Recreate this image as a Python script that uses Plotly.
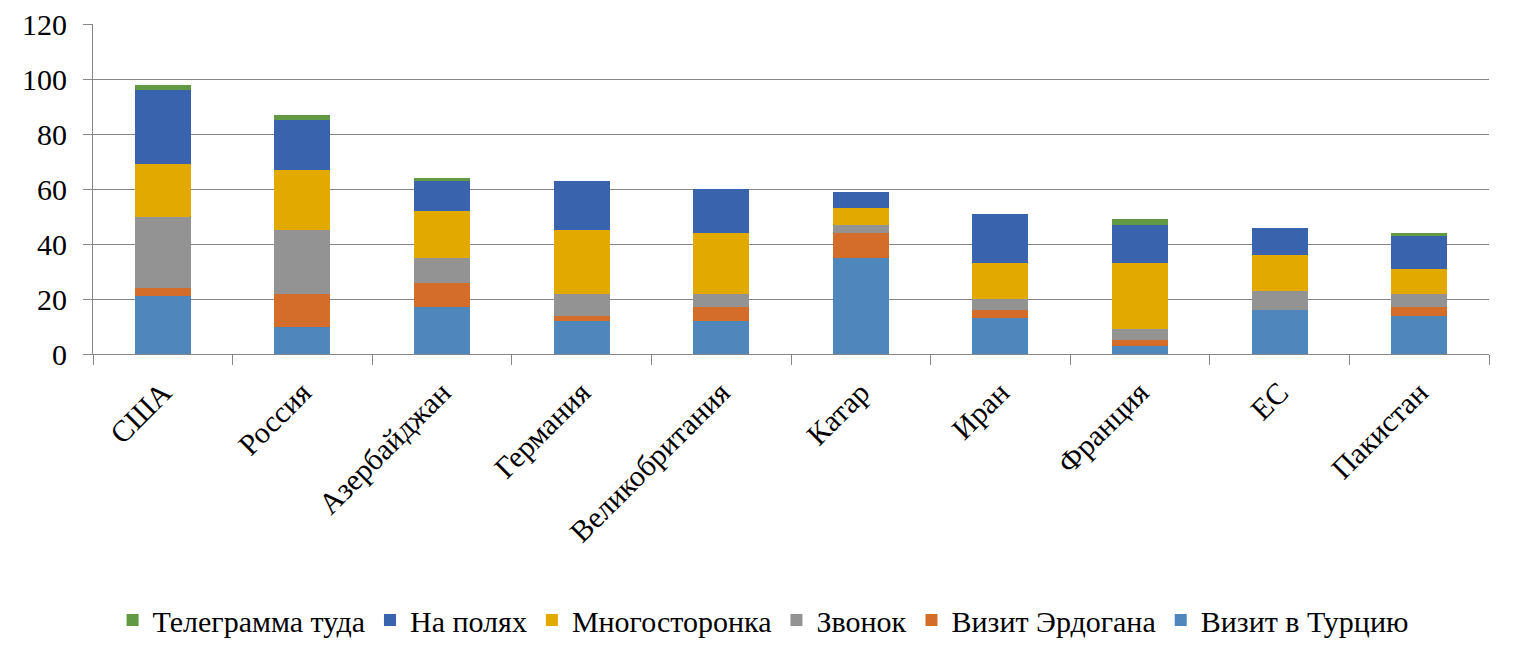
import plotly.graph_objects as go

categories = ["США", "Россия", "Азербайджан", "Германия", "Великобритания",
              "Катар", "Иран", "Франция", "ЕС", "Пакистан"]

visit_turkey = [21, 10, 17, 12, 12, 35, 13, 3, 16, 14]
visit_erdogan = [3, 12, 9, 2, 5, 9, 3, 2, 0, 3]
call = [26, 23, 9, 8, 5, 3, 4, 4, 7, 5]
multilateral = [19, 22, 17, 23, 22, 6, 13, 24, 13, 9]
sidelines = [27, 18, 11, 18, 16, 6, 18, 14, 10, 12]
telegram = [2, 2, 1, 0, 0, 0, 0, 2, 0, 1]

series_names = ["Визит в Турцию", "Визит Эрдогана", "Звонок",
                "Многосторонка", "На полях", "Телеграмма туда"]
series_values = [visit_turkey, visit_erdogan, call, multilateral, sidelines, telegram]
series_colors = ["#4F87BD", "#D46D2A", "#939393", "#E2AA00", "#3A63AD", "#629A44"]

FONT = "Times New Roman"

fig = go.Figure()
for name, vals, color in zip(series_names, series_values, series_colors):
    fig.add_trace(go.Bar(x=categories, y=vals, name=name,
                         marker=dict(color=color, line=dict(width=0))))

fig.update_layout(
    template="none",
    barmode="stack",
    bargap=0.6,
    width=1509, height=638,
    margin=dict(l=85, r=28, t=16, b=292, autoexpand=False),
    plot_bgcolor="white", paper_bgcolor="white",
    font=dict(family=FONT, size=30, color="black"),
    legend=dict(orientation="h", traceorder="reversed",
                x=0.48, xanchor="center", y=-0.806, yanchor="middle",
                font=dict(family=FONT, size=30, color="black"), itemwidth=30),
    showlegend=True,
)
fig.update_yaxes(range=[0, 120], dtick=20, showgrid=True, gridcolor="#868686",
                 gridwidth=1, showline=True, linecolor="#868686", ticks="outside",
                 ticklen=9, tickcolor="#868686", zeroline=False, automargin=False,
                 ticklabeloverflow="allow",
                 tickfont=dict(family=FONT, size=30, color="black"), ticklabelstandoff=10)
fig.update_xaxes(showline=True, linecolor="#868686", ticks="outside",
                 tickson="boundaries", ticklen=10, tickcolor="#868686",
                 tickangle=-45, automargin=False, showgrid=False,
                 ticklabeloverflow="allow",
                 tickfont=dict(family=FONT, size=30, color="black"), ticklabelstandoff=8)

fig.write_html("out.html")
